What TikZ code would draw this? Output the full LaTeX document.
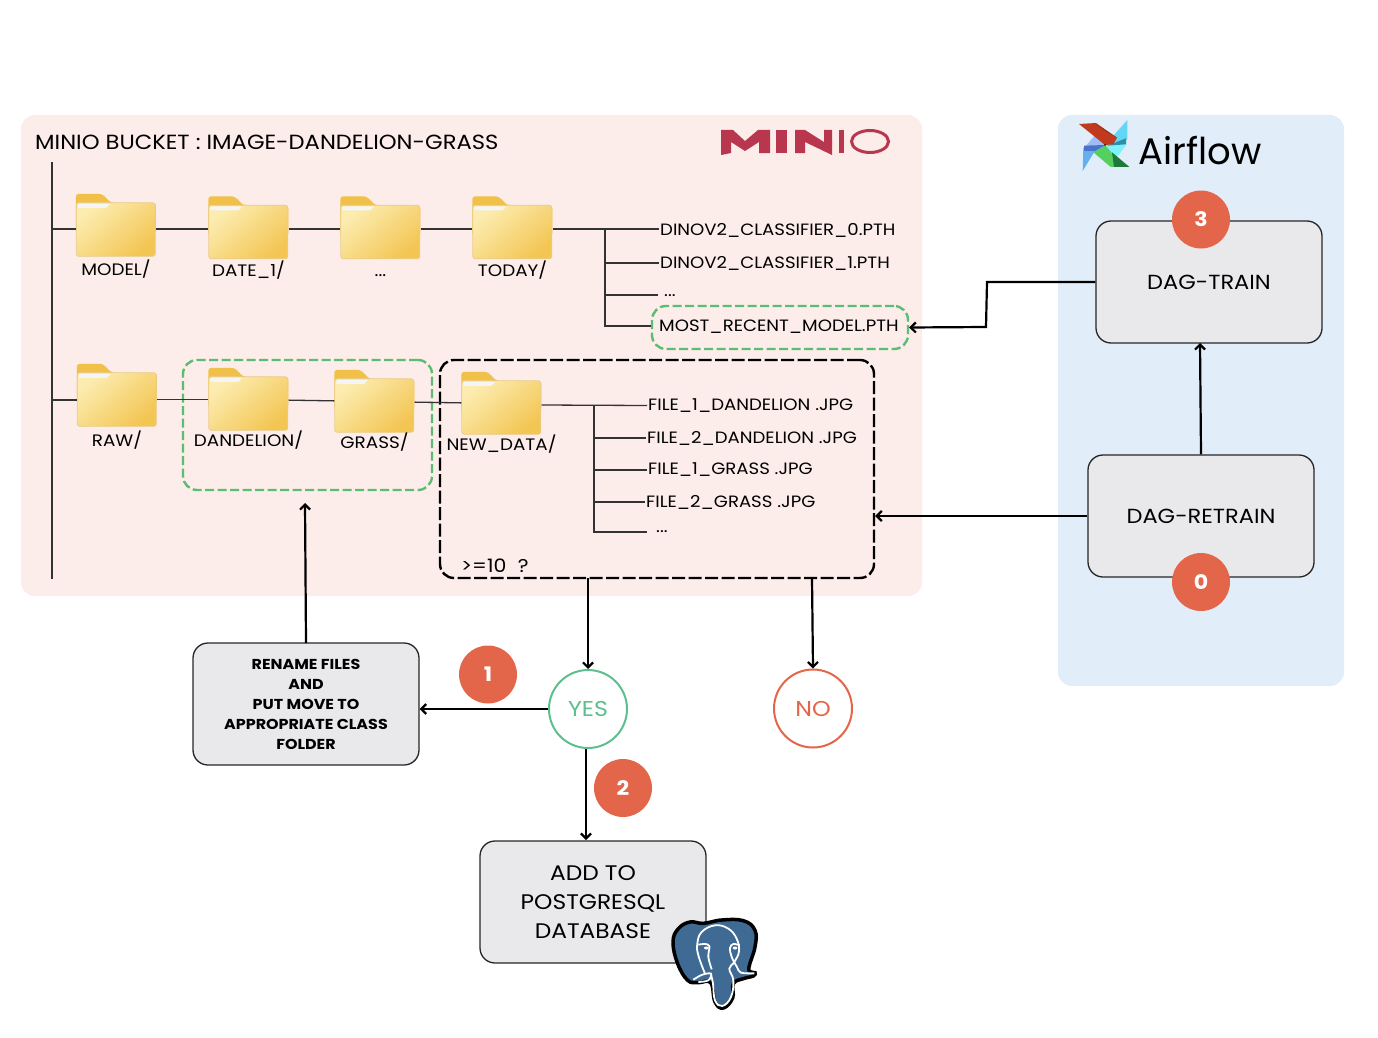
\documentclass[tikz,border=0pt]{standalone}
\usepackage{fontspec}
\setmainfont{Poppins}[FakeStretch=1.105]
\newfontfamily\logofont{Poppins}
\usepackage{tikz}
\usetikzlibrary{arrows.meta,positioning,calc,shapes.geometric}
\definecolor{miniobg}{HTML}{FCECEA}
\definecolor{airflowbg}{HTML}{E1EDF9}
\definecolor{boxgray}{HTML}{E9E9EB}
\definecolor{stepred}{HTML}{E4664A}
\definecolor{yesgreen}{HTML}{5DBF8E}
\definecolor{dashgreen}{HTML}{5CBD72}
\definecolor{miniored}{HTML}{B8374F}
\definecolor{pgblue}{HTML}{3F6A94}
\definecolor{foldertab}{RGB}{241,192,72}
\definecolor{folderlight}{RGB}{252,236,176}
\definecolor{folderdark}{RGB}{243,198,84}
\definecolor{folderedge}{RGB}{234,205,140}
\definecolor{bladered}{HTML}{C23A1E}
\definecolor{bladedarkred}{HTML}{7E2A18}
\definecolor{bladecyan}{HTML}{62D6F4}
\definecolor{bladepale}{HTML}{7CF2FA}
\definecolor{bladeteal}{HTML}{2E8FA8}
\definecolor{bladegreen}{HTML}{55CF5E}
\definecolor{bladedarkgreen}{HTML}{1E7A3A}
\definecolor{bladeblue}{HTML}{62B0F0}
\definecolor{bladelilac}{HTML}{9CBDF5}
\definecolor{bladeindigo}{HTML}{4A74C8}
\tikzset{
  folder/.style={minimum width=80pt, minimum height=63pt, inner sep=0pt},
  folderart/.pic={
    \fill[rounded corners=3pt, foldertab] (0,0) -- (26,0) -- (35,9) -- (80,9) -- (80,40) -- (0,40) -- cycle;
    \shade[rounded corners=2.5pt, top color=folderlight, bottom color=folderdark, shading angle=40, draw=folderedge, line width=.8pt] (.5,9) rectangle (79.5,62.5);
    \fill[white!92!gray] (2,10) -- (34,10) -- (30,14) -- (2,14) -- cycle;
  },
  foldertext/.style={inner sep=0pt, text height=11pt, text depth=3pt, font=\fontsize{16.6}{18}\selectfont},
  filetext/.style={anchor=west, inner sep=1pt, font=\fontsize{16.4}{18}\selectfont},
  procbox/.style={draw=black!85, line width=1.3pt, fill=boxgray, rounded corners=15pt, minimum width=226pt, minimum height=122pt, align=center, inner sep=0pt, font=\fontsize{20.4}{29}\selectfont},
  stepdot/.style={circle, fill=stepred, text=white, minimum size=58pt, inner sep=0pt, font=\fontsize{20}{22}\selectfont\bfseries},
  answer/.style={circle, fill=white, line width=2pt, minimum size=78pt, inner sep=0pt, font=\fontsize{21.5}{24}\selectfont},
  greendash/.style={draw=dashgreen, line width=2.4pt, dash pattern=on 9pt off 3.5pt, rounded corners=14pt, inner sep=0pt},
  blackdash/.style={draw=black, line width=2.4pt, dash pattern=on 13pt off 3.5pt, rounded corners=14pt, inner sep=0pt},
  treeline/.style={draw=black!80, line width=1.3pt},
  flow/.style={draw=black, line width=2.2pt, -{Straight Barb[length=5pt,width=10pt,line width=2.2pt]}},
  pgline/.style={draw=white, line width=1.8pt}
}
\begin{document}
\begin{tikzpicture}[x=1pt, y=-1pt]
  \useasboundingbox (0,0) rectangle (1378,1038);
  \fill[miniobg, rounded corners=14pt] (21,115) rectangle (922,596);
  \fill[airflowbg, rounded corners=14pt] (1058,115) rectangle (1344,686);

  \node[anchor=west, inner sep=0pt, font=\fontsize{20.5}{22}\selectfont] (title) at (35,142) {MINIO BUCKET : IMAGE-DANDELION-GRASS};

  \fill[miniored] (721,155) -- (721,142) -- (721,130) -- (733,130) -- (745,141) -- (758,130) -- (770,130) -- (770,153) -- (759,153) -- (759,142) -- (745,151) -- (731,142) -- (731,153) -- cycle;
  \fill[miniored] (776,130) rectangle (787,153);
  \fill[miniored] (795,130) -- (805,130) -- (824,142) -- (824,130) -- (832,130) -- (832,155) -- (805,142) -- (805,153) -- (795,153) -- cycle;
  \fill[miniored] (839,130) rectangle (844,153);
  \draw[miniored, line width=3pt] (870,141.5) ellipse (18.5 and 11);

  \node[greendash, minimum width=256pt, minimum height=43pt] (recentbox) at (780,327.5) {};
  \node[greendash, minimum width=249pt, minimum height=130pt] (classbox) at (307.5,425) {};
  \node[blackdash, minimum width=434pt, minimum height=218pt] (newbox) at (657,469) {};

  \foreach \fname/\fx/\fy/\fgap/\ftext in {model/116/225.5/7.5/{MODEL/}, dateone/248.5/228/5.5/{DATE\_1/}, dotsdir/380.5/228/5.5/{{...}}, today/512.5/228/5.5/{TODAY/}, raw/117/395.5/8.5/{RAW/}, dandelion/248.5/399.5/4.5/{DANDELION/}, grass/374.5/401.5/4.5/{GRASS/}, newdata/501.5/403.5/4.5/{NEW\_DATA/}}{
    \node[folder] (\fname) at (\fx,\fy) {};
    \pic at (\fname.north west) {folderart};
    \node[foldertext, below=\fgap pt of \fname] (\fname text) {\ftext};
  }

  \node[filetext] (dinozero) at (659,230) {DINOV2\_CLASSIFIER\_0.PTH};
  \node[filetext] (dinoone) at (659,263) {DINOV2\_CLASSIFIER\_1.PTH};
  \node[filetext] (dinodots) at (663,296) {...};
  \node[filetext] (recent) at (658,327) {MOST\_RECENT\_MODEL.PTH};
  \node[filetext] (fileone) at (647,406) {FILE\_1\_DANDELION .JPG};
  \node[filetext] (filetwo) at (646,438) {FILE\_2\_DANDELION .JPG};
  \node[filetext] (filethree) at (647,470) {FILE\_1\_GRASS .JPG};
  \node[filetext] (filefour) at (645,502) {FILE\_2\_GRASS .JPG};
  \node[filetext] (filedots) at (655,532) {...};
  \node[filetext, font=\fontsize{18.5}{20}\selectfont] (count) at (460,566) {>=10\, \,?};

  \coordinate (trunktop) at (52,162);
  \coordinate (trunkend) at (52,579);
  \coordinate (rowone) at (52,229);
  \coordinate (rowtwo) at (52,400);
  \coordinate (todaybranch) at (605,229);
  \coordinate (todayend) at (605,326);
  \coordinate (dotsstub) at (658,295);
  \coordinate (newbranch) at (594,405);
  \coordinate (newend) at (594,532);
  \coordinate (newstub) at (647,532);

  \draw[treeline] (trunktop) -- (trunkend);
  \draw[treeline] (rowone) -- (model.west |- rowone);
  \draw[treeline] (model.east |- rowone) -- (dateone.west |- rowone);
  \draw[treeline] (dateone.east |- rowone) -- (dotsdir.west |- rowone);
  \draw[treeline] (dotsdir.east |- rowone) -- (today.west |- rowone);
  \draw[treeline] (today.east |- rowone) -- (dinozero.west |- rowone);
  \draw[treeline] (todaybranch) -- (todayend) -- (recentbox.west |- todayend);
  \draw[treeline] (todaybranch |- dinoone) -- (dinoone);
  \draw[treeline] (todaybranch |- dotsstub) -- (dotsstub);
  \draw[treeline] (rowtwo) -- (raw.west |- rowtwo);
  \draw[treeline] (raw.east |- dandelion) -- (dandelion);
  \draw[treeline] (dandelion) -- (grass);
  \draw[treeline] (grass) -- (newdata);
  \draw[treeline] (newdata.east |- newbranch) -- (fileone);
  \draw[treeline] (newbranch) -- (newend) -- (newstub);
  \draw[treeline] (newbranch |- filetwo) -- (filetwo);
  \draw[treeline] (newbranch |- filethree) -- (filethree);
  \draw[treeline] (newbranch |- filefour) -- (filefour);

  \node[procbox] (train) at (1209,282) {DAG-TRAIN};
  \node[procbox] (retrain) at (1201,516) {DAG-RETRAIN};
  \node[procbox, font=\fontsize{14.4}{20}\selectfont\bfseries] (rename) at (306,704) {RENAME FILES\\AND\\PUT MOVE TO\\APPROPRIATE CLASS\\FOLDER};
  \node[procbox, font=\fontsize{21.1}{29}\selectfont] (addpg) at (593,902) {ADD TO\\POSTGRESQL\\DATABASE};
  \node[answer, draw=yesgreen, text=yesgreen] (yes) at (588,709) {YES};
  \node[answer, draw=stepred, text=stepred] (no) at (813,708.5) {NO};

  \coordinate (trainbend) at (987,282);
  \coordinate (recentbend) at (986,327);
  \coordinate (trainin) at (1200,343);
  \coordinate (yesout) at (588,578);
  \coordinate (noout) at (812,578);
  \coordinate (addin) at (586,840);
  \coordinate (renametop) at (306,643);
  \coordinate (classin) at (305,503);

  \draw[flow] (train.west) -- (trainbend) -- (recentbend) -- (recentbox.east);
  \draw[flow] (retrain.north) -- (trainin);
  \draw[flow] (retrain.west) -- (newbox.east |- retrain);
  \draw[flow] (yesout) -- (yes.north);
  \draw[flow] (noout) -- (no.north);
  \draw[flow] (yes.west) -- (rename.east |- yes);
  \draw[flow] (yes.south -| addin) -- (addin);
  \draw[flow] (renametop) -- (classin);

  \node[stepdot] (stepthree) at (1201,219.5) {3};
  \node[stepdot] (stepzero) at (1201,582) {0};
  \node[stepdot] (stepone) at (488,674.5) {1};
  \node[stepdot] (steptwo) at (623,788) {2};

  \begin{scope}[shift={(1070,115)}, x=.3333pt, y=-.3333pt]
    \fill[bladecyan] (172,15) -- (172,72) -- (130,108) -- (105,90) -- cycle;
    \fill[bladepale] (105,90) -- (170,88) -- (142,125) -- (120,125) -- cycle;
    \fill[bladeteal] (112,92) -- (168,70) -- (168,88) -- cycle;
    \fill[bladegreen] (105,90) -- (135,125) -- (178,156) -- (122,156) -- (70,112) -- cycle;
    \fill[bladedarkgreen] (126,112) -- (178,156) -- (132,156) -- cycle;
    \fill[bladeblue] (105,90) -- (72,112) -- (38,168) -- (40,98) -- cycle;
    \fill[bladelilac] (105,90) -- (80,55) -- (48,92) -- (48,100) -- cycle;
    \fill[bladeindigo] (42,92) -- (105,90) -- (75,108) -- (42,108) -- cycle;
    \fill[bladered] (27,27) -- (78,24) -- (141,68) -- (130,88) -- (105,90) -- cycle;
    \fill[bladedarkred] (72,24) -- (141,68) -- (112,52) -- cycle;
    \fill[black] (105,90) circle (2.5);
  \end{scope}
  \node[anchor=west, inner sep=0pt, font=\logofont\fontsize{37}{40}\selectfont] (airflow) at (1138,151) {Airflow};

  \begin{scope}[shift={(665,912)}, x=.3333pt, y=-.3333pt]
    \draw[black, line width=3.5pt, fill=pgblue] plot[smooth cycle, tension=.7] coordinates {(24,90) (40,50) (75,30) (115,34) (170,24) (235,26) (270,55) (270,105) (252,165) (258,180) (270,182) (265,192) (235,200) (205,215) (203,258) (175,288) (150,270) (137,212) (100,212) (68,205) (38,155)};
    \draw[pgline] plot[smooth, tension=.7] coordinates {(120,185) (100,130) (97,95) (110,60) (150,40) (190,50) (215,80) (222,118) (208,150) (193,170) (205,205) (198,255) (172,282) (150,265) (144,215) (138,188)};
    \draw[pgline] plot[smooth, tension=.6] coordinates {(100,98) (118,96) (133,102) (130,135) (140,172)};
    \draw[pgline] plot[smooth, tension=.6] coordinates {(224,100) (205,96) (195,108) (200,135) (216,165) (228,182) (268,184)};
    \draw[pgline] plot[smooth, tension=.6] coordinates {(85,203) (112,188) (138,185) (130,205) (100,210)};
    \fill[white] (124,108) ellipse (7 and 4.5);
    \fill[white] (210,108) ellipse (7 and 4.5);
  \end{scope}
\end{tikzpicture}
\end{document}
